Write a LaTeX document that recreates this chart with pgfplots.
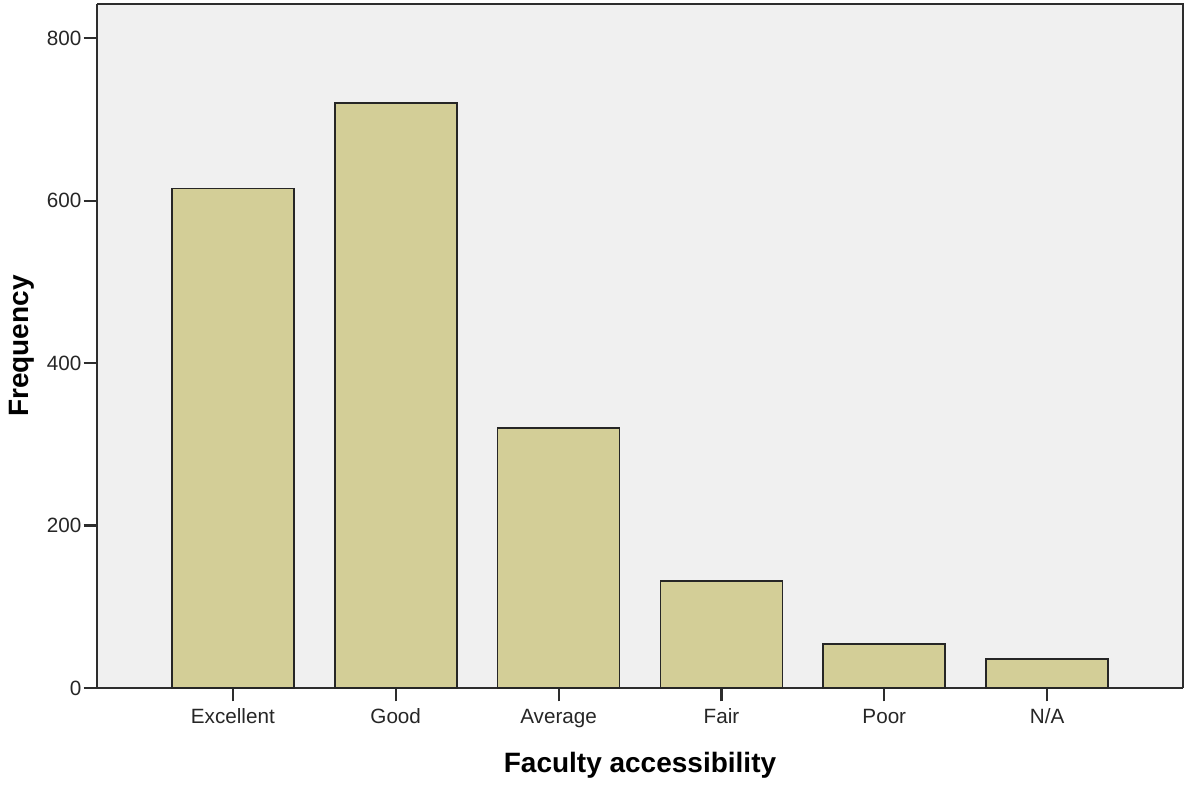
\documentclass[border=0pt]{standalone}
\usepackage{pgfplots}
\pgfplotsset{compat=1.18}
\usepackage{fontspec}
\setmainfont{Liberation Sans}
\definecolor{barfill}{RGB}{211,206,151}
\definecolor{bgfill}{RGB}{240,240,240}
\definecolor{axisgray}{RGB}{45,45,45}
\begin{document}
\begin{tikzpicture}
\begin{axis}[
  scale only axis,
  width=814.5pt, height=513pt,
  xmin=-0.834, xmax=5.834,
  ymin=0, ymax=842,
  axis background/.style={fill=bgfill},
  axis line style={draw=axisgray, line width=1.9pt},
  axis x line*=bottom, axis y line*=left,
  xtick={0,1,2,3,4,5},
  xticklabels={Excellent,Good,Average,Fair,Poor,N/A},
  ytick={0,200,400,600,800},
  tick align=outside,
  major tick length=10pt,
  tick style={draw=axisgray, line width=1.6pt},
  ticklabel style={font=\fontsize{15.5pt}{18pt}\selectfont, text=black!85},
  yticklabel style={inner sep=1.5pt},
  xticklabel style={inner sep=2pt, text height=11.6pt, text depth=3pt, yshift=-3pt},
  /pgf/number format/assume math mode=true,
  xlabel={Faculty accessibility},
  ylabel={Frequency},
  xlabel style={font=\fontsize{21pt}{24pt}\selectfont\bfseries, at={(axis description cs:0.5,-0.1126)}, anchor=center},
  ylabel style={font=\fontsize{21pt}{24pt}\selectfont\bfseries, at={(axis description cs:-0.069,0.5)}, anchor=center, rotate=0},
  clip=false,
]
\addplot[ybar, bar width=91.5pt, fill=barfill, draw=black!85, line width=1.3pt]
  coordinates {(0,615) (1,720) (2,320.5) (3,132) (4,54) (5,36)};
\end{axis}
% top and right frame lines
\draw[axisgray, line width=1.9pt] (current axis.south east) -- (current axis.north east) -- (current axis.north west);
\path (current axis.south west) ++(-72.75pt,-73.5pt) coordinate (bbA);
\path (current axis.north east) ++(2.25pt,3pt) coordinate (bbB);
\path (bbA) rectangle (bbB);
\end{tikzpicture}
\end{document}
